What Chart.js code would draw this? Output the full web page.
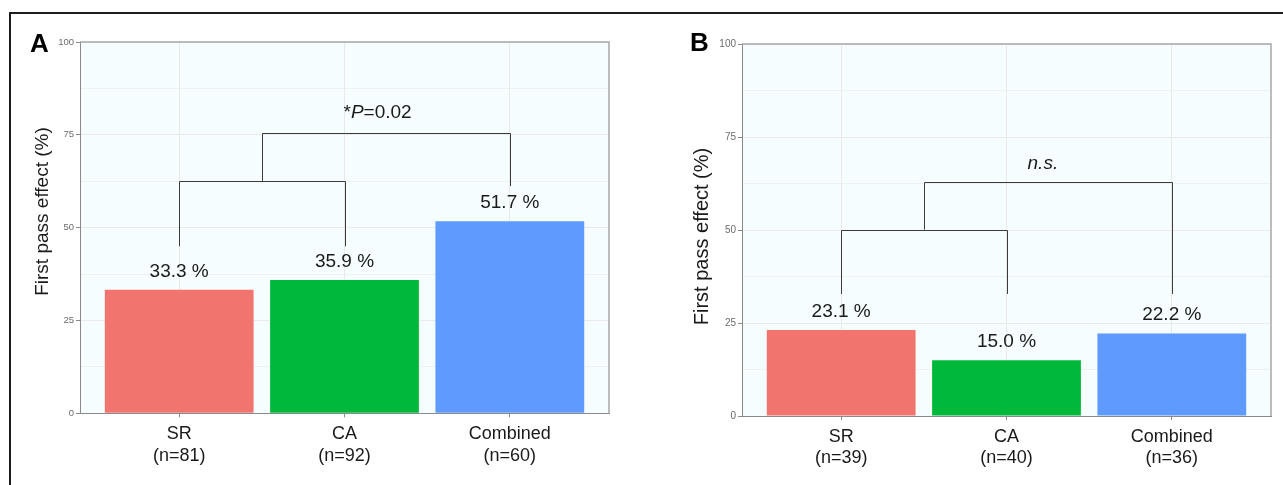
<!DOCTYPE html>
<html><head><meta charset="utf-8">
<script src="https://cdn.jsdelivr.net/npm/chart.js@4.4.1/dist/chart.umd.min.js"></script>
<style>
html,body{margin:0;padding:0;background:#fff;width:1283px;height:485px;overflow:hidden;}
#frame{position:absolute;left:9px;top:12px;width:1300px;height:500px;border-left:2.5px solid #1c1c1c;border-top:2px solid #1c1c1c;}
.wrap{position:absolute;top:0;height:485px;}
#wa{left:0;width:640px;} #wb{left:640px;width:643px;}
</style></head><body>
<div id="frame"></div>
<div class="wrap" id="wa"><canvas id="ca"></canvas></div>
<div class="wrap" id="wb"><canvas id="cb"></canvas></div>
<script>
// ---- data ----
const categories = ['SR', 'CA', 'Combined'];
const nA = [81, 92, 60];
const valuesA = [33.3, 35.9, 51.7];
const nB = [39, 40, 36];
const valuesB = [23.1, 15.0, 22.2];
const barColors = ['#F1746F', '#00B93A', '#5F9BFE'];
const yTickValues = [0, 25, 50, 75, 100];
const yTitle = 'First pass effect (%)';
// brackets: [xFrom, xTo, yTop, yLegFromBottom, yLegToBottom]
const bracketsA = [[1, 2, 62.6, 45.0, 45.0], [1.5, 3, 75.4, 62.6, 61.2]];
const bracketsB = [[1, 2, 50.1, 32.8, 32.8], [1.5, 3, 62.9, 50.1, 32.8]];
const testA = {x: 2.2, y: 79.5, parts: [['*', 'normal'], ['P', 'italic'], ['=0.02', 'normal']]};
const testB = {x: 2.22, y: 66.3, parts: [['n.s.', 'italic']]};

const FONT = '"Liberation Sans", Arial, Helvetica, sans-serif';

function decoPlugin(cfg) {
  return {
    id: 'deco' + cfg.letter,
    beforeDraw(chart) {
      const {ctx, chartArea: a} = chart;
      ctx.save();
      ctx.fillStyle = '#f5fdff';
      ctx.fillRect(a.left, a.top, a.right - a.left, a.bottom - a.top);
      ctx.restore();
    },
    afterDatasetsDraw(chart) {
      const {ctx, chartArea: a, scales: {x, y}} = chart;
      ctx.save();
      // panel border (top/right)
      ctx.strokeStyle = '#a8a8a8'; ctx.lineWidth = 1.5;
      ctx.beginPath(); ctx.moveTo(a.left, a.top); ctx.lineTo(a.right, a.top); ctx.lineTo(a.right, a.bottom); ctx.stroke();
      // value labels
      ctx.fillStyle = '#1a1a1a'; ctx.font = '19px ' + FONT; ctx.textAlign = 'center'; ctx.textBaseline = 'alphabetic';
      cfg.values.forEach((v, i) => {
        ctx.fillText(v.toFixed(1) + ' %', x.getPixelForValue(i + 1), y.getPixelForValue(v) - 13);
      });
      // brackets
      ctx.strokeStyle = '#3a3a3a'; ctx.lineWidth = 1;
      cfg.brackets.forEach(([x0, x1, yt, yl0, yl1]) => {
        const px0 = Math.round(x.getPixelForValue(x0)) + 0.5;
        const px1 = Math.round(x.getPixelForValue(x1)) + 0.5;
        const pyt = Math.round(y.getPixelForValue(yt)) + 0.5;
        ctx.beginPath();
        ctx.moveTo(px0, y.getPixelForValue(yl0));
        ctx.lineTo(px0, pyt); ctx.lineTo(px1, pyt);
        ctx.lineTo(px1, y.getPixelForValue(yl1));
        ctx.stroke();
      });
      // test annotation
      ctx.textAlign = 'left';
      let total = 0;
      cfg.test.parts.forEach(([t, st]) => { ctx.font = (st === 'italic' ? 'italic ' : '') + '19px ' + FONT; total += ctx.measureText(t).width; });
      let cx = x.getPixelForValue(cfg.test.x) - total / 2;
      const cy = y.getPixelForValue(cfg.test.y);
      cfg.test.parts.forEach(([t, st]) => {
        ctx.font = (st === 'italic' ? 'italic ' : '') + '19px ' + FONT;
        ctx.fillText(t, cx, cy); cx += ctx.measureText(t).width;
      });
      // y title
      ctx.save();
      ctx.translate(cfg.tx, cfg.ty); ctx.rotate(-Math.PI / 2);
      ctx.font = cfg.tsize + 'px ' + FONT; ctx.textAlign = 'center'; ctx.textBaseline = 'middle';
      ctx.fillText(yTitle, 0, 0);
      ctx.restore();
      // panel letter
      ctx.fillStyle = '#000'; ctx.font = 'bold 26px ' + FONT; ctx.textAlign = 'left'; ctx.textBaseline = 'alphabetic';
      ctx.fillText(cfg.letter, cfg.lx, cfg.ly);
      ctx.restore();
    }
  };
}

function makeChart(id, values, ns, cfg) {
  return new Chart(document.getElementById(id), {
    type: 'bar',
    data: {
      datasets: [{
        data: values.map((v, i) => ({x: i + 1, y: v})),
        backgroundColor: barColors,
        borderWidth: 0,
        barPercentage: 0.9,
        categoryPercentage: 1
      }]
    },
    options: {
      responsive: true, maintainAspectRatio: false, animation: false,
      devicePixelRatio: 1,
      layout: {padding: cfg.padding},
      plugins: {legend: {display: false}, tooltip: {enabled: false}},
      scales: {
        x: {
          type: 'linear', min: 0.4, max: 3.6, offset: false,
          afterBuildTicks: s => { s.ticks = categories.map((c, i) => ({value: i + 1})); },
          afterFit: s => { s.height = cfg.xh; },
          ticks: {
            callback: v => [categories[v - 1], '(n=' + ns[v - 1] + ')'],
            font: {family: FONT, size: 18}, color: '#1a1a1a', padding: 6, maxRotation: 0, autoSkip: false
          },
          grid: {offset: false, color: '#e9e9e9', lineWidth: 1, tickColor: '#8a8a8a', tickLength: 4},
          border: {color: '#8a8a8a', width: 1}
        },
        y: {
          min: 0, max: 100,
          afterFit: s => { s.width = cfg.yw; },
          ticks: {
            stepSize: 12.5,
            callback: v => yTickValues.includes(v) ? String(v) : '',
            font: {family: FONT, size: cfg.tickSize}, color: '#6b6b6b', padding: 2
          },
          grid: {
            color: '#ebebeb',
            lineWidth: c => yTickValues.includes(c.tick.value) ? 1 : 0.7,
            tickColor: c => yTickValues.includes(c.tick.value) ? '#8a8a8a' : 'rgba(0,0,0,0)',
            tickLength: 4
          },
          border: {color: '#8a8a8a', width: 1}
        }
      }
    },
    plugins: [decoPlugin(cfg)]
  });
}

makeChart('ca', valuesA, nA, {
  letter: 'A', lx: 30, ly: 52, values: valuesA, brackets: bracketsA, test: testA,
  padding: {top: 42, right: 31, left: 0, bottom: 0}, yw: 80, xh: 71.7, tickSize: 9.5,
  tx: 43, ty: 211.5, tsize: 19
});
makeChart('cb', valuesB, nB, {
  letter: 'B', lx: 50, ly: 51, values: valuesB, brackets: bracketsB, test: testB,
  padding: {top: 44, right: 12, left: 0, bottom: 0}, yw: 102, xh: 69, tickSize: 10,
  tx: 62, ty: 236.5, tsize: 20
});
</script>
</body></html>
